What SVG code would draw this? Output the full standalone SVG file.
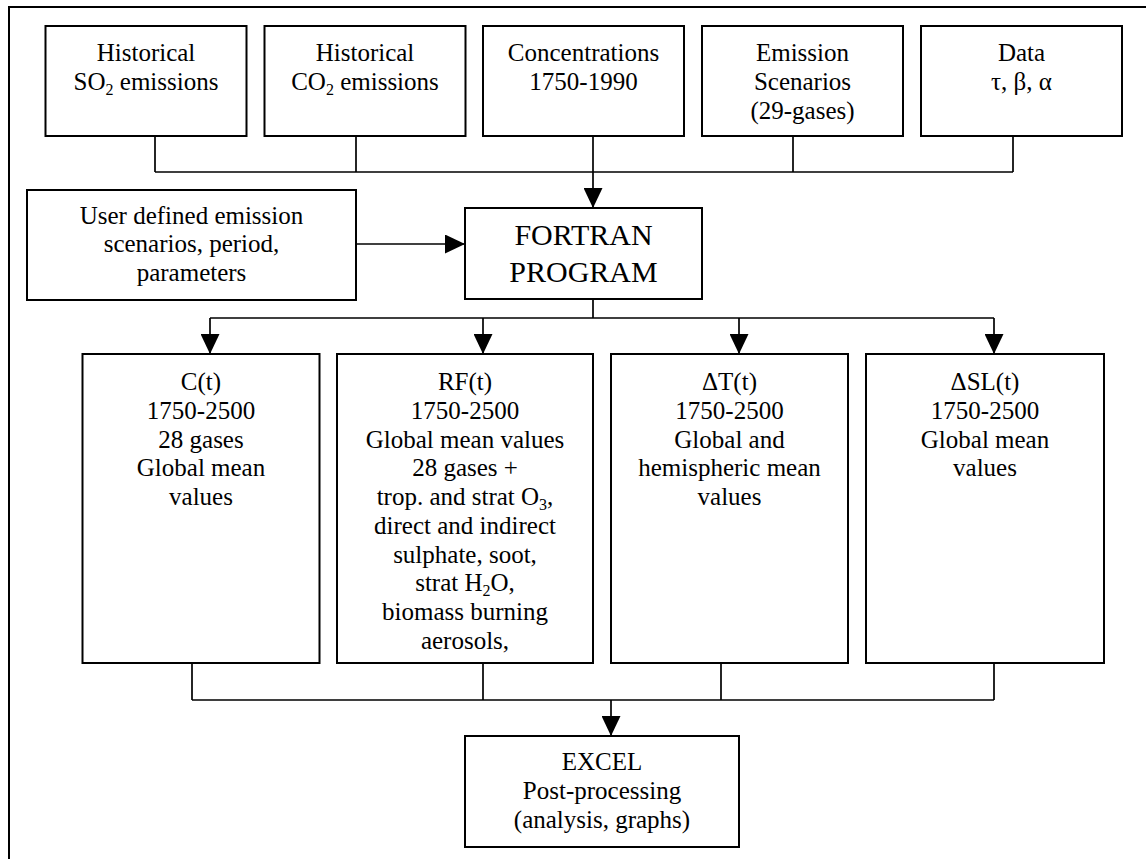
<svg xmlns="http://www.w3.org/2000/svg" width="1146" height="859" viewBox="0 0 1146 859">
<style>
.box{fill:#fff;stroke:#000;stroke-width:2}
.t{font-family:"Liberation Serif","Times New Roman",serif;font-size:25px;fill:#000;text-anchor:middle}
.big{font-size:30px}
.c{fill:none;stroke:#000;stroke-width:1.7}
.sub{font-size:16px}
</style>
<defs>
<marker id="ah" markerUnits="userSpaceOnUse" markerWidth="20" markerHeight="19" refX="20" refY="9.5" orient="auto">
<path d="M0,0 L20,9.5 L0,19 z" fill="#000"/>
</marker>
</defs>
<rect width="1146" height="859" fill="#fff"/>
<g id="frame"><path d="M9,859 V7 H1146" fill="none" stroke="#000" stroke-width="2"/></g>

<g id="connectors">
<path class="c" d="M155,136 V172 M356,136 V172 M793,136 V172 M1013,136 V172 M155,172 H1013"/>
<path class="c" d="M593,136 V208" marker-end="url(#ah)"/>
<path class="c" d="M356,244 H465" marker-end="url(#ah)"/>
<path class="c" d="M593,299 V318 M210,318 H994"/>
<path class="c" d="M210,318 V354" marker-end="url(#ah)"/>
<path class="c" d="M483,318 V354" marker-end="url(#ah)"/>
<path class="c" d="M739,318 V354" marker-end="url(#ah)"/>
<path class="c" d="M994,318 V354" marker-end="url(#ah)"/>
<path class="c" d="M192,663 V700 M483,663 V700 M721,663 V700 M994,663 V700 M192,700 H994"/>
<path class="c" d="M611,700 V736" marker-end="url(#ah)"/>
</g>

<g id="hist-so2">
<rect class="box" x="45.5" y="26" width="201" height="110"/>
<text class="t" x="146" y="61">Historical</text>
<text class="t" x="146" y="90">SO<tspan class="sub" dy="5">2</tspan><tspan dy="-5"> emissions</tspan></text>
</g>
<g id="hist-co2">
<rect class="box" x="264.5" y="26" width="201" height="110"/>
<text class="t" x="365" y="61">Historical</text>
<text class="t" x="365" y="90">CO<tspan class="sub" dy="5">2</tspan><tspan dy="-5"> emissions</tspan></text>
</g>
<g id="concentrations">
<rect class="box" x="483" y="26" width="201" height="110"/>
<text class="t" x="583.5" y="61">Concentrations</text>
<text class="t" x="583.5" y="90">1750-1990</text>
</g>
<g id="emission-scenarios">
<rect class="box" x="702" y="26" width="201" height="110"/>
<text class="t" x="802.5" y="61">Emission</text>
<text class="t" x="802.5" y="90">Scenarios</text>
<text class="t" x="802.5" y="118.5">(29-gases)</text>
</g>
<g id="data">
<rect class="box" x="921" y="26" width="201" height="110"/>
<text class="t" x="1021.5" y="61">Data</text>
<text class="t" x="1021.5" y="90">τ, β, α</text>
</g>

<g id="user-defined">
<rect class="box" x="27" y="190" width="329" height="110"/>
<text class="t" x="191.5" y="223.5">User defined emission</text>
<text class="t" x="191.5" y="252.25">scenarios, period,</text>
<text class="t" x="191.5" y="281">parameters</text>
</g>
<g id="fortran">
<rect class="box" x="465" y="208" width="237" height="91"/>
<text class="t big" x="583.5" y="245">FORTRAN</text>
<text class="t big" x="583.5" y="281.5">PROGRAM</text>
</g>

<g id="ct">
<rect class="box" x="82.5" y="354" width="237" height="309"/>
<text class="t" x="201" y="390">C(t)</text>
<text class="t" x="201" y="418.75">1750-2500</text>
<text class="t" x="201" y="447.5">28 gases</text>
<text class="t" x="201" y="476.25">Global mean</text>
<text class="t" x="201" y="505">values</text>
</g>
<g id="rft">
<rect class="box" x="337" y="354" width="256" height="309"/>
<text class="t" x="465" y="390">RF(t)</text>
<text class="t" x="465" y="418.75">1750-2500</text>
<text class="t" x="465" y="447.5">Global mean values</text>
<text class="t" x="465" y="476.25">28 gases +</text>
<text class="t" x="465" y="505">trop. and strat O<tspan class="sub" dy="5">3</tspan><tspan dy="-5">,</tspan></text>
<text class="t" x="465" y="533.75">direct and indirect</text>
<text class="t" x="465" y="562.5">sulphate, soot,</text>
<text class="t" x="465" y="591.25">strat H<tspan class="sub" dy="5">2</tspan><tspan dy="-5">O,</tspan></text>
<text class="t" x="465" y="620">biomass burning</text>
<text class="t" x="465" y="648.75">aerosols,</text>
</g>
<g id="dt">
<rect class="box" x="611" y="354" width="237" height="309"/>
<text class="t" x="729.5" y="390">ΔT(t)</text>
<text class="t" x="729.5" y="418.75">1750-2500</text>
<text class="t" x="729.5" y="447.5">Global and</text>
<text class="t" x="729.5" y="476.25">hemispheric mean</text>
<text class="t" x="729.5" y="505">values</text>
</g>
<g id="dsl">
<rect class="box" x="866" y="354" width="238" height="309"/>
<text class="t" x="985" y="390">ΔSL(t)</text>
<text class="t" x="985" y="418.75">1750-2500</text>
<text class="t" x="985" y="447.5">Global mean</text>
<text class="t" x="985" y="476.25">values</text>
</g>

<g id="excel">
<rect class="box" x="465" y="736" width="274" height="111"/>
<text class="t" x="602" y="770">EXCEL</text>
<text class="t" x="602" y="799">Post-processing</text>
<text class="t" x="602" y="828">(analysis, graphs)</text>
</g>
</svg>
